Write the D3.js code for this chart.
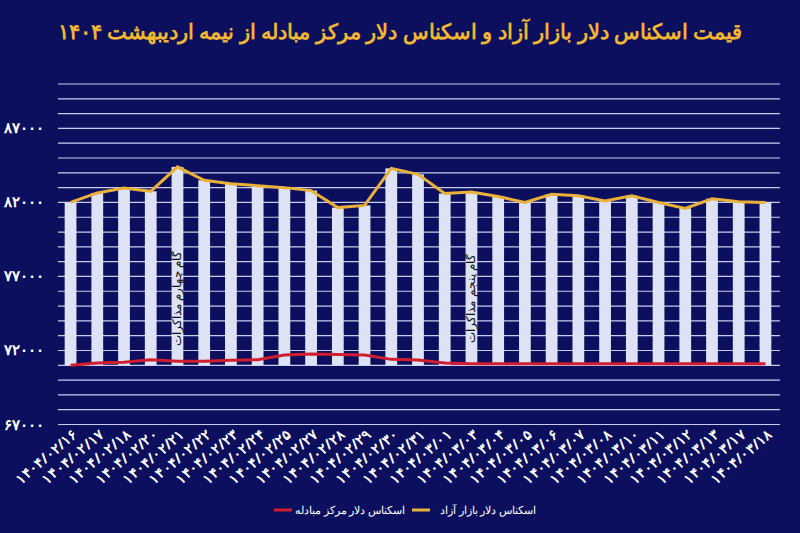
<!DOCTYPE html>
<html><head><meta charset="utf-8">
<script src="https://cdn.jsdelivr.net/npm/d3@7"></script>
<style>body{margin:0;background:#0b0f5e}</style></head>
<body><svg id="c" width="800" height="533"></svg>
<script>
const categories=["1404/02/16","1404/02/17","1404/02/18","1404/02/20","1404/02/21","1404/02/22","1404/02/23","1404/02/24","1404/02/25","1404/02/27","1404/02/28","1404/02/29","1404/02/30","1404/02/31","1404/03/01","1404/03/03","1404/03/04","1404/03/05","1404/03/06","1404/03/07","1404/03/08","1404/03/10","1404/03/11","1404/03/12","1404/03/13","1404/03/17","1404/03/18"];
const freeMarket=[82000,82640,82980,82750,84400,83500,83270,83130,83000,82800,81650,81800,84300,83900,82600,82700,82400,82000,82550,82450,82100,82450,82000,81600,82250,82050,82000];
const exchangeCenter=[71000,71160,71200,71380,71270,71270,71340,71380,71690,71760,71730,71700,71400,71350,71150,71100,71100,71100,71100,71100,71100,71100,71100,71100,71100,71100,71100];
const yTicks=[67000,72000,77000,82000,87000];
const annotations=[{i:4,text:"گام چهارم مذاکرات"},{i:15,text:"گام پنجم مذاکرات"}];
const title="قیمت اسکناس دلار بازار آزاد و اسکناس دلار مرکز مبادله از نیمه اردیبهشت ۱۴۰۴";
const fa=s=>String(s).replace(/\d/g,d=>"۰۱۲۳۴۵۶۷۸۹"[d]);
const svg=d3.select("#c");
svg.append("rect").attr("width",800).attr("height",533).attr("fill","#0b0f5e");
const x=d3.scaleBand().domain(categories).range([58,778]).paddingInner(0.56).paddingOuter(0.25);
const y=d3.scaleLinear().domain([67000,90000]).range([424.5,84]);
svg.append("g").selectAll("line").data(d3.range(67000,90001,1000)).join("line")
 .attr("x1",58).attr("x2",780).attr("y1",d=>y(d)).attr("y2",d=>y(d)).attr("stroke","#c8cdf0").attr("stroke-width",1.2);
svg.append("g").selectAll("text").data(yTicks).join("text").attr("x",44).attr("y",d=>y(d)+5)
 .attr("text-anchor","end").attr("fill","#fff").attr("font-family","Noto Sans").attr("font-weight","bold").attr("font-size",15).text(d=>fa(d));
svg.append("g").selectAll("rect").data(freeMarket).join("rect")
 .attr("x",(d,i)=>x(categories[i])).attr("width",x.bandwidth()).attr("y",d=>y(d)).attr("height",d=>y(71000)-y(d)).attr("fill","#dde3f5");
const cx=i=>x(categories[i])+x.bandwidth()/2;
svg.append("path").datum(exchangeCenter).attr("fill","none").attr("stroke","#d01e2e").attr("stroke-width",3)
 .attr("d",d3.line().x((d,i)=>cx(i)).y(d=>y(d)));
svg.append("path").datum(freeMarket).attr("fill","none").attr("stroke","#e9b13a").attr("stroke-width",3)
 .attr("d",d3.line().x((d,i)=>cx(i)).y(d=>y(d)));
annotations.forEach(a=>{
 svg.append("text").attr("transform",`translate(${cx(a.i)+4},${y(77000)+22}) rotate(-90)`).attr("fill","#111")
  .attr("font-family","Noto Sans").attr("font-size",12).attr("text-anchor","middle").text(a.text);
});
svg.append("g").selectAll("text").data(categories).join("text")
 .attr("transform",(d,i)=>`translate(${cx(i)+8},${436}) rotate(-40)`).attr("text-anchor","end")
 .attr("fill","#fff").attr("font-family","Noto Sans").attr("font-weight","bold").attr("font-size",14).text(d=>fa(d));
svg.append("text").attr("x",400).attr("y",39).attr("text-anchor","middle").attr("fill","#f2b632")
 .attr("font-family","Noto Sans").attr("font-weight","900").attr("font-size",21).text(title);
const leg=[{t:"اسکناس دلار بازار آزاد",c:"#e9b13a",x1:412,x2:430,tx:488},{t:"اسکناس دلار مرکز مبادله",c:"#d01e2e",x1:274,x2:292,tx:350}];
leg.forEach(l=>{
 svg.append("line").attr("x1",l.x1).attr("x2",l.x2).attr("y1",510).attr("y2",510).attr("stroke",l.c).attr("stroke-width",3);
 svg.append("text").attr("x",l.tx).attr("y",514).attr("text-anchor","middle").attr("fill","#fff")
  .attr("font-family","Noto Sans").attr("font-size",10.5).text(l.t);
});
</script></body></html>
